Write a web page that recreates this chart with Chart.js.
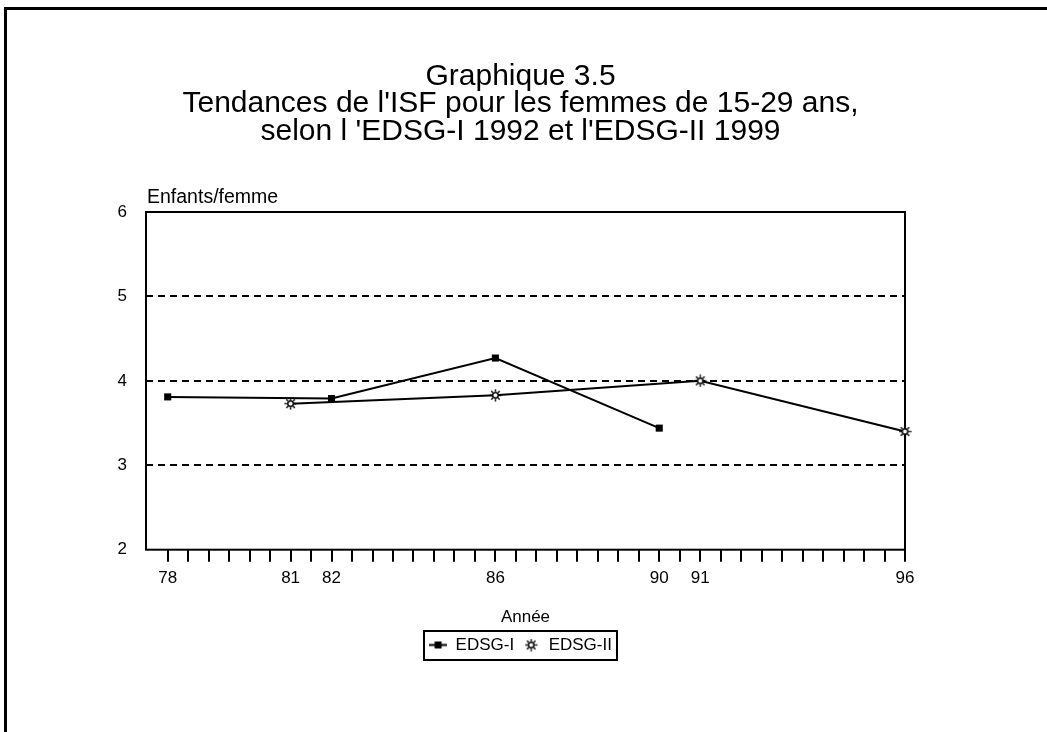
<!DOCTYPE html>
<html><head><meta charset="utf-8">
<script src="https://cdn.jsdelivr.net/npm/chart.js@4/dist/chart.umd.min.js"></script>
<style>
html,body{margin:0;padding:0;background:#fff;}
#wrap{position:relative;width:1047px;height:732px;overflow:hidden;}
#frame{position:absolute;left:4px;top:7px;right:-10px;bottom:-10px;border-top:3px solid #000;border-left:3px solid #000;pointer-events:none;}
canvas{display:block;}
</style></head><body>
<div id="wrap"><canvas id="c" width="1047" height="732"></canvas><div id="frame"></div></div>
<script>
// ---- data ----
const titleLines = ["Graphique 3.5", "Tendances de l'ISF pour les femmes de 15-29 ans,", "selon l 'EDSG-I 1992 et l'EDSG-II 1999"];
const yAxisLabel = "Enfants/femme";
const xAxisLabel = "Année";
const seriesNames = ["EDSG-I", "EDSG-II"];
const tickYears = [78, 81, 82, 86, 90, 91, 96];
const yTickValues = [2, 3, 4, 5, 6];
const edsg1Years = [78, 82, 86, 90];
const edsg1Values = [3.81, 3.79, 4.27, 3.44];
const edsg2Years = [81, 86, 91, 96];
const edsg2Values = [3.73, 3.83, 4.00, 3.40];

// ---- styling helpers ----
const FONT = '"Liberation Sans", Arial, Helvetica, sans-serif';
Chart.defaults.font.family = FONT;
Chart.defaults.color = '#000';

function sunMarker() {
  const c = document.createElement('canvas'); c.width = 13; c.height = 13;
  const g = c.getContext('2d');
  g.strokeStyle = '#000'; g.lineWidth = 1.5; g.fillStyle = '#fff';
  g.beginPath(); g.arc(6.5, 6.5, 2.8, 0, Math.PI * 2); g.fill(); g.stroke();
  for (let i = 0; i < 8; i++) {
    const a = i * Math.PI / 4;
    g.beginPath();
    g.moveTo(6.5 + Math.cos(a) * 3.8, 6.5 + Math.sin(a) * 3.8);
    g.lineTo(6.5 + Math.cos(a) * 6, 6.5 + Math.sin(a) * 6);
    g.stroke();
  }
  return c;
}
function lineSquareMarker() {
  const c = document.createElement('canvas'); c.width = 18; c.height = 9;
  const g = c.getContext('2d');
  g.fillStyle = '#000';
  g.fillRect(0, 3.5, 18, 2);
  g.fillRect(5.5, 1, 7, 7);
  return c;
}
const sunImg = sunMarker();
const legendImgs = [lineSquareMarker(), sunImg];

// half-year minor tick positions between the first and last labelled years
const minorTicks = [];
for (let v = tickYears[0]; v <= tickYears[tickYears.length - 1]; v += 0.5) minorTicks.push(v);

const toPoints = (xs, ys) => xs.map((x, i) => ({x: x, y: ys[i]}));

const framePlugin = {
  id: 'frame',
  beforeDatasetsDraw(chart) {
    const {ctx, chartArea: a} = chart;
    ctx.save();
    ctx.strokeStyle = '#000'; ctx.lineWidth = 2; ctx.setLineDash([]);
    ctx.strokeRect(a.left, a.top, a.right - a.left, a.bottom - a.top);
    ctx.restore();
  },
  afterDraw(chart) {
    const {ctx, chartArea: a} = chart;
    ctx.save();
    ctx.fillStyle = '#000';
    ctx.font = '19.5px ' + FONT;
    ctx.textAlign = 'left'; ctx.textBaseline = 'alphabetic';
    ctx.fillText(yAxisLabel, a.left + 1, a.top - 9);
    // legend border
    const hb = chart.legend.legendHitBoxes;
    if (hb && hb.length) {
      let l = Infinity, t = Infinity, r = -Infinity, b = -Infinity;
      hb.forEach(h => { l = Math.min(l, h.left); t = Math.min(t, h.top); r = Math.max(r, h.left + h.width); b = Math.max(b, h.top + h.height); });
      ctx.strokeStyle = '#000'; ctx.lineWidth = 2;
      ctx.strokeRect(Math.round(l) - 5, Math.round(t) - 6, Math.round(r - l) + 10, Math.round(b - t) + 12);
    }
    ctx.restore();
  }
};

new Chart(document.getElementById('c'), {
  type: 'line',
  data: {
    datasets: [
      {
        label: seriesNames[0],
        data: toPoints(edsg1Years, edsg1Values),
        borderColor: '#000', backgroundColor: '#000', borderWidth: 2,
        pointStyle: 'rect', pointRadius: 5, pointBorderWidth: 0,
        pointBackgroundColor: '#000', tension: 0, clip: false
      },
      {
        label: seriesNames[1],
        data: toPoints(edsg2Years, edsg2Values),
        borderColor: '#000', backgroundColor: '#fff', borderWidth: 2,
        pointStyle: sunImg, pointRadius: 6, tension: 0, clip: false
      }
    ]
  },
  options: {
    responsive: false,
    animation: false,
    events: [],
    layout: {padding: {left: 0, right: 6, top: 62.5, bottom: 68.5}},
    plugins: {
      title: {
        display: true,
        text: titleLines,
        color: '#000',
        font: {size: 30, weight: 'normal', lineHeight: '27.5px'},
        padding: {top: 0, bottom: 67}
      },
      legend: {
        display: true,
        position: 'bottom',
        labels: {
          usePointStyle: true,
          pointStyleWidth: 18,
          padding: 8,
          color: '#000',
          font: {size: 17},
          generateLabels: (chart) => chart.data.datasets.map((ds, i) => ({
            text: ds.label, pointStyle: legendImgs[i], fillStyle: '#000',
            strokeStyle: '#000', lineWidth: 0, hidden: false, datasetIndex: i, fontColor: '#000'
          }))
        }
      },
      tooltip: {enabled: false}
    },
    scales: {
      x: {
        type: 'linear',
        min: 77.47,
        max: 96,
        afterBuildTicks: (s) => { s.ticks = minorTicks.map(v => ({value: v})); },
        afterFit: (s) => { s.paddingLeft = 0; s.paddingRight = 1047 - 905; },
        ticks: {
          autoSkip: false, maxRotation: 0, minRotation: 0, padding: 6,
          color: '#000', font: {size: 17},
          callback: (v) => tickYears.includes(v) ? String(v) : ''
        },
        grid: {
          display: true, drawOnChartArea: false, drawTicks: true,
          tickLength: 12, tickWidth: 2, tickColor: '#000', color: '#000', lineWidth: 2
        },
        border: {display: false},
        title: {
          display: true, text: xAxisLabel, color: '#000',
          font: {size: 17}, padding: {top: 13, bottom: 1}
        }
      },
      y: {
        type: 'linear',
        min: yTickValues[0],
        max: yTickValues[yTickValues.length - 1],
        afterBuildTicks: (s) => { s.ticks = yTickValues.map(v => ({value: v})); },
        afterFit: (s) => { s.width = 146; s.paddingTop = 0; s.paddingBottom = 0; },
        ticks: {padding: 19, color: '#000', font: {size: 17}},
        grid: {
          display: true, drawTicks: false, lineWidth: 2,
          color: (c) => (c.tick && c.tick.value > yTickValues[0] && c.tick.value < yTickValues[yTickValues.length - 1]) ? '#000' : 'rgba(0,0,0,0)'
        },
        border: {display: false, dash: [7, 5]}
      }
    }
  },
  plugins: [framePlugin]
});
</script>
</body></html>
